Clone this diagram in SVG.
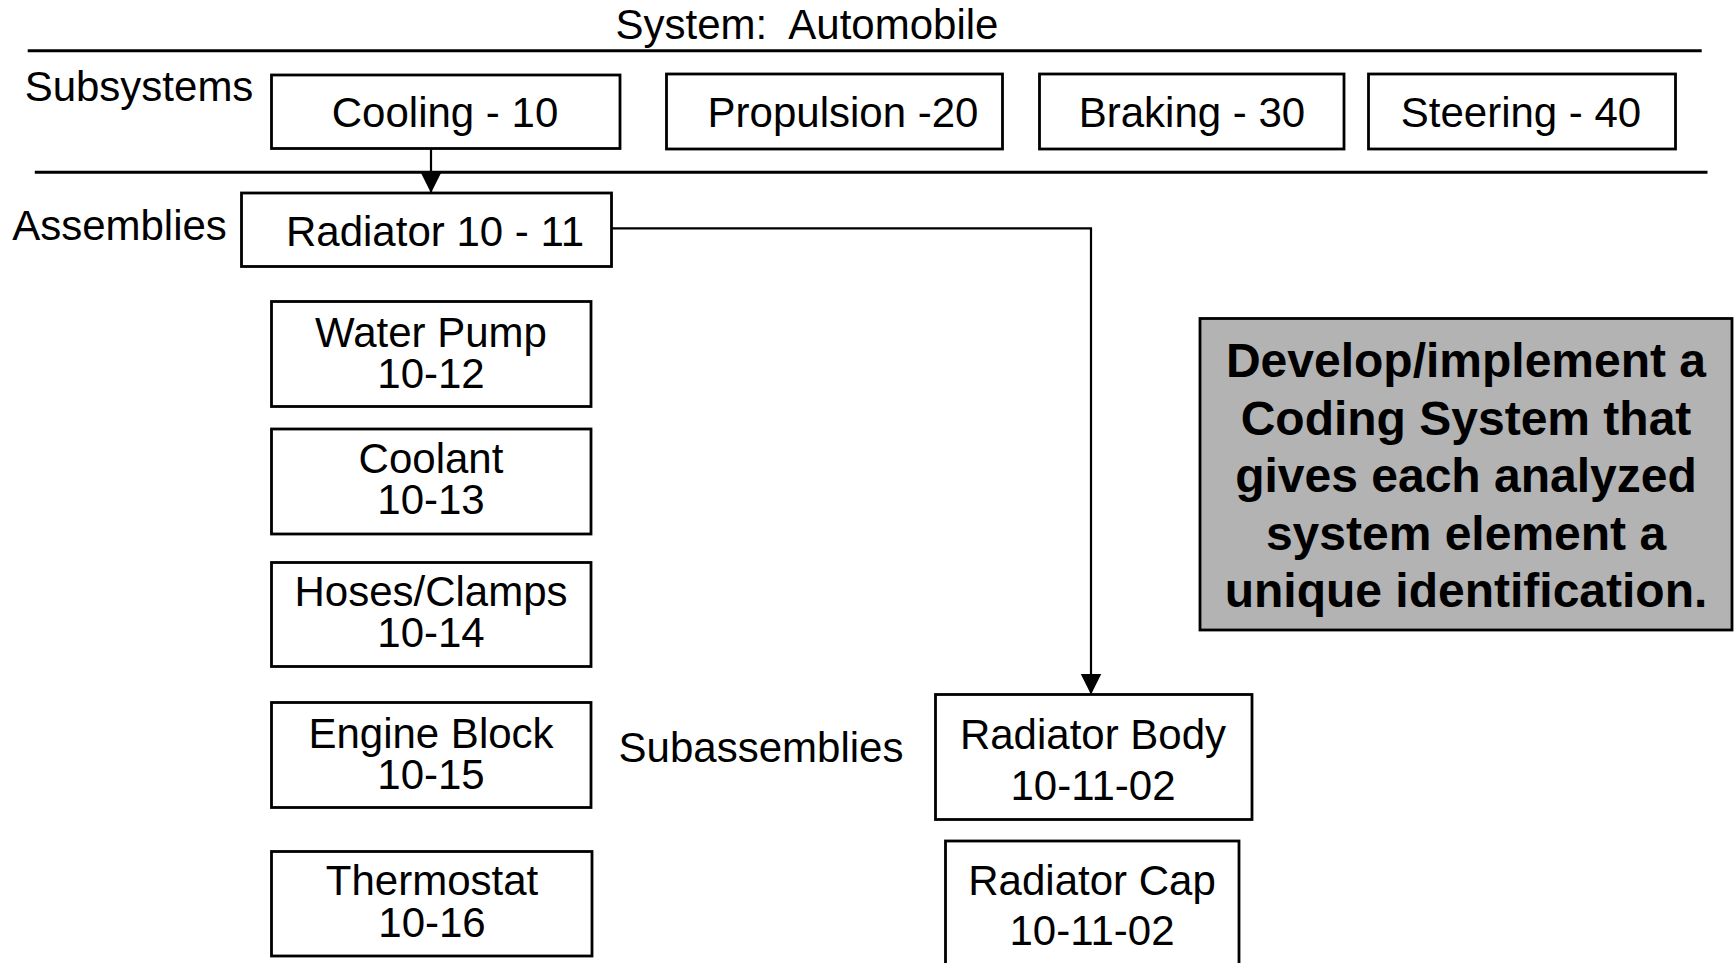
<svg xmlns="http://www.w3.org/2000/svg" width="1735" height="963" viewBox="0 0 1735 963">
<style>
text{font-family:"Liberation Sans",Arial,sans-serif;font-size:42px;fill:#000;text-anchor:middle;white-space:pre}
.box{fill:#fff;stroke:#000;stroke-width:2.8}
.rule{stroke:#000;stroke-width:3;fill:none}
.conn{stroke:#000;stroke-width:2.2;fill:none}
.note{fill:#b3b3b3;stroke:#000;stroke-width:2.8}
.bold{font-weight:bold;font-size:48px}
</style>
<defs>
<marker id="arr" markerUnits="userSpaceOnUse" markerWidth="22" markerHeight="22" refX="21" refY="10.5" orient="auto">
<path d="M0,0 L21,10.5 L0,21 Z" fill="#000"/>
</marker>
</defs>
<rect width="1735" height="963" fill="#fff"/>
<g id="labels">
<text x="807" y="38.5">System:  Automobile</text>
<line class="rule" x1="27.7" y1="50.7" x2="1701.7" y2="50.7"/>
<text x="139" y="100.5">Subsystems</text>
<line class="rule" x1="34.8" y1="172.3" x2="1707.5" y2="172.3"/>
<text x="119.5" y="240">Assemblies</text>
<text x="761" y="761.5">Subassemblies</text>
</g>
<g id="connectors">
<line class="conn" x1="431" y1="148.5" x2="431" y2="193" marker-end="url(#arr)"/>
<path class="conn" d="M611.5,228.3 H1091 V694.5" marker-end="url(#arr)"/>
</g>
<g id="cooling"><rect class="box" x="271.5" y="75" width="348.5" height="73.5"/><text x="445" y="127">Cooling - 10</text></g>
<g id="propulsion"><rect class="box" x="666.5" y="74" width="336" height="75"/><text x="843" y="127">Propulsion -20</text></g>
<g id="braking"><rect class="box" x="1039.5" y="74" width="304.5" height="75"/><text x="1192" y="127">Braking - 30</text></g>
<g id="steering"><rect class="box" x="1368.5" y="74" width="307" height="75"/><text x="1521" y="127">Steering - 40</text></g>
<g id="radiator"><rect class="box" x="241.5" y="193" width="370" height="73.5"/><text x="435" y="246">Radiator 10 - 11</text></g>
<g id="waterpump"><rect class="box" x="271.5" y="301.5" width="319.5" height="105"/><text x="431" y="346.7">Water Pump</text><text x="431" y="387.7">10-12</text></g>
<g id="coolant"><rect class="box" x="271.5" y="429" width="319.5" height="105"/><text x="431" y="473.3">Coolant</text><text x="431" y="514.3">10-13</text></g>
<g id="hoses"><rect class="box" x="271.5" y="562.5" width="319.5" height="104"/><text x="431" y="606">Hoses/Clamps</text><text x="431" y="646.7">10-14</text></g>
<g id="engineblock"><rect class="box" x="271.5" y="702.5" width="319.5" height="105"/><text x="431" y="747.5">Engine Block</text><text x="431" y="789">10-15</text></g>
<g id="thermostat"><rect class="box" x="271.5" y="851.5" width="320.5" height="104.5"/><text x="432" y="895">Thermostat</text><text x="432" y="937">10-16</text></g>
<g id="radiatorbody"><rect class="box" x="935.5" y="694.5" width="316.5" height="125"/><text x="1093" y="749">Radiator Body</text><text x="1093" y="799.5">10-11-02</text></g>
<g id="radiatorcap"><rect class="box" x="945.5" y="841" width="293.5" height="140"/><text x="1092" y="894.5">Radiator Cap</text><text x="1092" y="945">10-11-02</text></g>
<g id="note"><rect class="note" x="1200" y="318.5" width="532" height="311.5"/>
<text class="bold" x="1466" y="377">Develop/implement a</text>
<text class="bold" x="1466" y="434.6">Coding System that</text>
<text class="bold" x="1466" y="492.2">gives each analyzed</text>
<text class="bold" x="1466" y="549.8">system element a</text>
<text class="bold" x="1466" y="607.4">unique identification.</text>
</g>
</svg>
